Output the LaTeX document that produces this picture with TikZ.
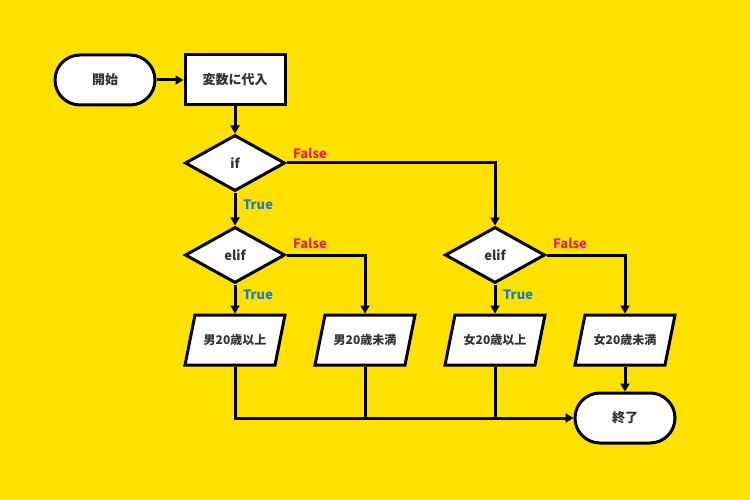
\documentclass[tikz,border=0pt]{standalone}
\usepackage{fontspec}
\setmainfont{Noto Sans CJK JP}
\usetikzlibrary{shapes.geometric,arrows.meta}
\definecolor{bg}{HTML}{FFE100}
\definecolor{fr}{HTML}{E0245E}
\definecolor{tb}{HTML}{1A7FBF}
\definecolor{tx}{HTML}{333333}
\begin{document}
\begin{tikzpicture}[x=1pt,y=-1pt,
  every node/.style={font=\bfseries\fontsize{13}{15}\selectfont, text=tx},
  base/.style={draw=black, line width=3pt, fill=white},
  term/.style={base, rounded corners=25pt, minimum width=100pt, minimum height=50pt},
  proc/.style={base, minimum width=100pt, minimum height=50pt},
  dec/.style={base, diamond, aspect=1.8, minimum width=100pt, minimum height=56pt, inner sep=0pt},
  io/.style={minimum width=90pt, minimum height=50pt, inner sep=0pt, outer sep=1.5pt, font=\bfseries\fontsize{12}{14}\selectfont},
  ln/.style={line width=3pt, -{Triangle[length=8pt,width=9pt]}},
  pl/.style={line width=3pt},
  fl/.style={text=fr, font=\bfseries\fontsize{13}{15}\selectfont},
  tl/.style={text=tb, font=\bfseries\fontsize{13}{15}\selectfont}]
\fill[bg] (0,0) rectangle (750,500);
\useasboundingbox (0,0) rectangle (750,500);
\node[term] (start) at (105,80) {開始};
\node[proc] (assign) at (235,80) {変数に代入};
\node[dec] (if) at (235,163) {if};
\node[dec] (elifL) at (235,255) {elif};
\node[dec] (elifR) at (495,255) {elif};
\foreach \n/\x in {m1/235,m2/365,f1/495,f2/625}
  \filldraw[base, line join=miter] (\x-50,365) -- (\x-40,315) -- (\x+50,315) -- (\x+40,365) -- cycle;
\node[io] (m1) at (235,340) {男20歳以上};
\node[io] (m2) at (365,340) {男20歳未満};
\node[io] (f1) at (495,340) {女20歳以上};
\node[io] (f2) at (625,340) {女20歳未満};
\node[term] (end) at (625,418) {終了};
\draw[ln] (start) -- (assign);
\draw[ln] (assign) -- (if);
\draw[ln] (if) -- (elifL);
\draw[ln] (if.east) -| (elifR.north);
\draw[ln] (elifL) -- (m1);
\draw[ln] (elifL.east) -| (m2.north);
\draw[ln] (elifR) -- (f1);
\draw[ln] (elifR.east) -| (f2.north);
\draw[ln] (f2) -- (end);
\coordinate (j1) at (365,418);
\coordinate (j2) at (495,418);
\draw[pl] (m2.south) -- (j1);
\draw[pl] (f1.south) -- (j2);
\draw[ln] (m1.south) |- (end.west);
\node[fl] at (310,153) {False};
\node[fl] at (310,243) {False};
\node[fl] at (570,243) {False};
\node[tl] at (258,205) {True};
\node[tl] at (258,295) {True};
\node[tl] at (518,295) {True};
\end{tikzpicture}
\end{document}
